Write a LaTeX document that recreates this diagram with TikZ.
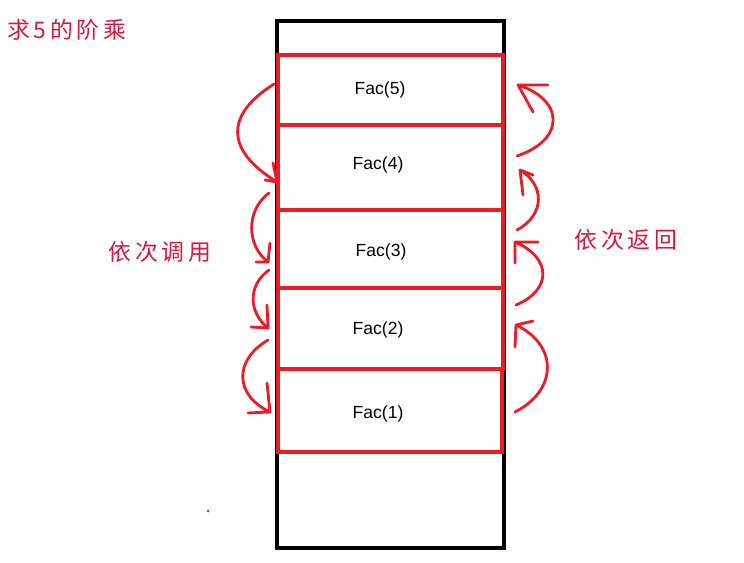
\documentclass[tikz,border=0pt]{standalone}
\usepackage{fontspec}
\setmainfont{Liberation Sans}
\newfontfamily\cjk{Noto Sans CJK SC}
\usepackage{tikz}

\definecolor{paintred}{RGB}{236,28,36}
\definecolor{inkred}{RGB}{214,24,58}

\tikzset{
  outerbox/.style={draw=black,line width=1.8pt},
  redbox/.style={draw=paintred,line width=2pt},
  fac/.style={font=\fontsize{10}{12}\selectfont,text=black},
  note/.style={font=\cjk\fontsize{13}{15}\selectfont,text=inkred},
  hand/.style={draw=paintred,line width=1.6pt,line cap=round,line join=round}
}

\begin{document}
\begin{tikzpicture}[x=0.02cm,y=-0.02cm]
        \useasboundingbox (0,0) rectangle (744,563);
        % stack
        \draw[outerbox] (277,21) rectangle (504,548);
        \draw[redbox] (278,55) rectangle (503,125);
        \draw[redbox] (278,125) rectangle (503,210);
        \draw[redbox] (278,210) rectangle (503,288);
        \draw[redbox] (278,288) rectangle (503,369);
        \draw[redbox] (278,369) rectangle (502,452);
        \node[fac] (f5) at (380,90) {Fac(5)};
        \node[fac] (f4) at (378,165) {Fac(4)};
        \node[fac] (f3) at (381,252) {Fac(3)};
        \node[fac] (f2) at (378,330) {Fac(2)};
        \node[fac] (f1) at (378,414) {Fac(1)};
        % texts
        \node[note,anchor=west] (title) at (1,30) {求\,5\,的\,阶\,乘};
        \node[note] (call) at (160,252) {依\,次\,调\,用};
        \node[note] (back) at (626,240) {依\,次\,返\,回};
        % calls going down
        \draw[hand] (274,84) .. controls (225,115) and (225,150) .. (277,182) (273,163) -- (277,182) -- (265,180);
        \draw[hand] (269,193) .. controls (246,210) and (246,245) .. (268,262) (270,243) -- (268,262) -- (256,262);
        \draw[hand] (269,270) .. controls (248,285) and (248,312) .. (268,328) (267,305) -- (268,328) -- (251,327);
        \draw[hand] (268,340) .. controls (234,360) and (234,395) .. (270,412) (267,383) -- (270,412) -- (248,413);
        % returns going up
        \draw[hand] (517,156) .. controls (565,140) and (565,100) .. (518,85) (548,85) -- (518,85) -- (533,112);
        \draw[hand] (517,230) .. controls (545,215) and (545,185) .. (520,170) (533,175) -- (520,170) -- (523,195);
        \draw[hand] (516,305) .. controls (552,290) and (552,258) .. (515,242) (538,242) -- (515,242) -- (515,263);
        \draw[hand] (515,412) .. controls (558,390) and (558,345) .. (516,325) (533,321) -- (516,325) -- (515,347);
        % stray dot
        \fill[paintred] (208,511) circle (1.5);
\end{tikzpicture}
\end{document}
